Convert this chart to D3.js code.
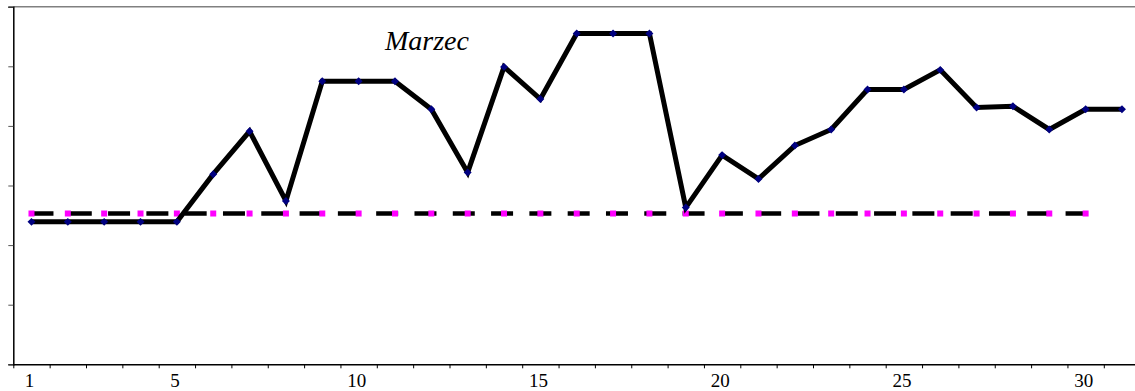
<!DOCTYPE html>
<html>
<head>
<meta charset="utf-8">
<script src="https://cdn.jsdelivr.net/npm/d3@7"></script>
<style>
  body { margin: 0; background: #fff; }
  svg { display: block; }
</style>
</head>
<body>
<div id="chart"></div>
<script>
// days of the month
const days = d3.range(1, 32);
// daily series
const values = [23.9, 23.9, 23.9, 23.9, 23.9, 31.9, 39.1, 27.4, 47.5, 47.5,
                47.5, 42.8, 32.2, 49.9, 44.5, 55.5, 55.5, 55.5, 26.3, 35.1,
                31.1, 36.7, 39.4, 46.1, 46.1, 49.4, 43.1, 43.3, 39.4, 42.8, 42.8];
// reference level, drawn for days 1..30
const refDays = d3.range(1, 31);
const refValue = 25.3;
const labelDays = [1, 5, 10, 15, 20, 25, 30];
const title = "Marzec";

const serif = "'Liberation Serif', 'Times New Roman', serif";
const width = 1135, height = 391;
const margin = {left: 13.3, top: 6.7, bottom: 364.3};
margin.right = margin.left + 31 * 36.35;

const svg = d3.select("#chart").append("svg")
    .attr("width", width)
    .attr("height", height);

const x = d3.scaleLinear().domain([0.5, 31.5]).range([margin.left, margin.right]);
const y = d3.scaleLinear().domain([0, 60]).range([margin.bottom, margin.top]);

// top frame line
svg.append("line")
    .attr("x1", margin.left).attr("x2", width)
    .attr("y1", y(60)).attr("y2", y(60))
    .attr("stroke", "#808080")
    .attr("stroke-width", 1.5);

// y axis
const yAxis = svg.append("g")
    .attr("transform", `translate(${margin.left},0)`)
    .call(d3.axisLeft(y).tickValues(d3.range(0, 61, 10)).tickSize(5).tickFormat(""));
yAxis.select(".domain").attr("stroke", "#000").attr("stroke-width", 1.5);
yAxis.selectAll(".tick line").attr("stroke", "#555");

// x axis: ticks on the day boundaries
const xAxis = svg.append("g")
    .attr("transform", `translate(0,${margin.bottom})`)
    .call(d3.axisBottom(x).tickValues(d3.range(0.5, 32, 1)).tickSize(4).tickFormat("").tickSizeOuter(0));
xAxis.select(".domain").attr("stroke", "#000").attr("stroke-width", 1.5)
    .attr("d", `M${margin.left},0.5H${width}`);
xAxis.selectAll(".tick line").attr("stroke", "#000");

// day labels
const xLabels = svg.append("g")
    .attr("transform", `translate(-2.5,${margin.bottom})`)
    .call(d3.axisBottom(x).tickValues(labelDays).tickSize(0).tickPadding(0));
xLabels.select(".domain").remove();
xLabels.selectAll("text")
    .attr("dy", null)
    .attr("y", 22.5)
    .style("font-family", serif)
    .style("font-size", "19px")
    .attr("fill", "#000");

// reference dashed line
const line = d3.line().x(d => x(d[0])).y(d => y(d[1]));
svg.append("path")
    .datum(refDays.map(d => [d, refValue]))
    .attr("d", line)
    .attr("fill", "none")
    .attr("stroke", "#000")
    .attr("stroke-width", 4.5)
    .attr("stroke-dasharray", "22,16.3");

svg.selectAll(".ref-mark")
    .data(refDays)
    .enter()
    .append("rect")
    .attr("class", "ref-mark")
    .attr("x", d => x(d) - 3)
    .attr("y", y(refValue) - 3)
    .attr("width", 6)
    .attr("height", 6)
    .attr("fill", "#ff00ff");

// daily series
svg.append("path")
    .datum(days.map((d, i) => [d, values[i]]))
    .attr("d", line)
    .attr("fill", "none")
    .attr("stroke", "#000")
    .attr("stroke-width", 5)
    .attr("stroke-linejoin", "miter");

svg.selectAll(".mark")
    .data(days)
    .enter()
    .append("path")
    .attr("class", "mark")
    .attr("d", d3.symbol(d3.symbolDiamond2, 40))
    .attr("transform", (d, i) => `translate(${x(d)},${y(values[i])})`)
    .attr("fill", "#000080");

// title
svg.append("text")
    .attr("x", 385)
    .attr("y", 50)
    .style("font-family", serif)
    .style("font-style", "italic")
    .style("font-size", "28px")
    .text(title);
</script>
</body>
</html>
